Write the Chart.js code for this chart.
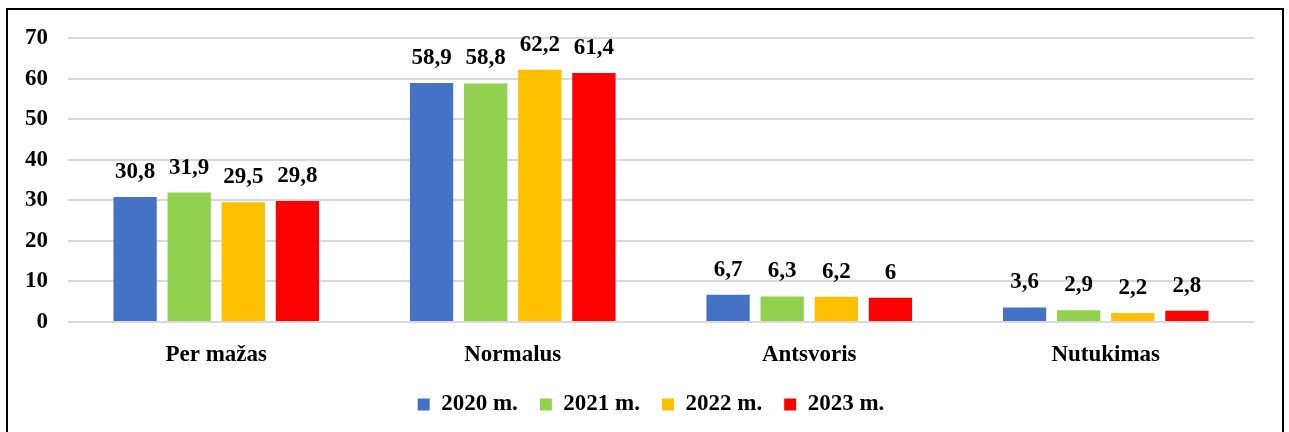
<!DOCTYPE html>
<html>
<head>
<meta charset="utf-8">
<script src="https://cdn.jsdelivr.net/npm/chart.js@4"></script>
<style>
  body { margin: 0; background: #fff; overflow: hidden; }
  #box {
    position: absolute; left: 6px; top: 8px;
    width: 1274px; height: 430px;
    border: 2px solid #000;
  }
  #box canvas { display: block; }
</style>
</head>
<body>
<div id="box"><canvas id="c" width="1274" height="422"></canvas></div>
<script>
// chart data
const categories = ['Per mažas', 'Normalus', 'Antsvoris', 'Nutukimas']
const years = ['2020 m.', '2021 m.', '2022 m.', '2023 m.']
const v2020 = [30.8, 58.9, 6.7, 3.6]
const v2021 = [31.9, 58.8, 6.3, 2.9]
const v2022 = [29.5, 62.2, 6.2, 2.2]
const v2023 = [29.8, 61.4, 6.0, 2.8]
const yTicks = [0, 10, 20, 30, 40, 50, 60, 70]

const colors = ['#4472C4', '#92D050', '#FFC000', '#FF0000']
const font = "'Liberation Serif', 'Times New Roman', serif"

// value labels above bars, comma decimals
const barLabels = {
	id: 'barLabels',
	afterDatasetsDraw(chart) {
		const ctx = chart.ctx
		ctx.save()
		ctx.font = 'bold 23px ' + font
		ctx.fillStyle = '#000'
		ctx.textAlign = 'center'
		ctx.textBaseline = 'middle'
		chart.data.datasets.forEach((ds, i) => {
			chart.getDatasetMeta(i).data.forEach((bar, j) => {
				const txt = String(ds.data[j]).replace('.', ',')
				ctx.fillText(txt, bar.x, bar.y - 25)
			})
		})
		ctx.restore()
	}
}

// nudge the legend a little to the right
const legendShift = {
	id: 'legendShift',
	afterLayout(chart) {
		if (!chart.legend) return
		chart.legend.left += 20
		chart.legend.right += 20
	}
}

const series = [v2020, v2021, v2022, v2023]

new Chart(document.getElementById('c'), {
	type: 'bar',
	data: {
		labels: categories,
		datasets: series.map((d, i) => ({
			label: years[i],
			data: d,
			backgroundColor: colors[i],
			barPercentage: 0.8,
			categoryPercentage: 0.73
		}))
	},
	options: {
		responsive: false,
		animation: false,
		layout: { padding: { left: 0, right: 28, top: 28, bottom: 6 } },
		plugins: {
			legend: {
				position: 'bottom',
				labels: {
					boxWidth: 12,
					boxHeight: 12,
					padding: 22,
					color: '#000',
					font: { family: font, size: 23, weight: 'bold' }
				}
			},
			tooltip: { enabled: false }
		},
		scales: {
			x: {
				grid: { display: false, drawTicks: false },
				border: { display: false },
				ticks: {
					color: '#000',
					padding: 19,
					font: { family: font, size: 23, weight: 'bold' }
				},
				afterFit(s) { s.height = 49 }
			},
			y: {
				min: 0,
				max: 70,
				afterBuildTicks(s) { s.ticks = yTicks.map(v => ({ value: v })) },
				grid: { color: '#d9d9d9', lineWidth: 2, drawTicks: false },
				border: { display: false },
				ticks: {
					color: '#000',
					padding: 20,
					font: { family: font, size: 23, weight: 'bold' }
				},
				afterFit(s) {
					s.width = 60
					s.paddingTop = 0
					s.paddingBottom = 0
				}
			}
		}
	},
	plugins: [barLabels, legendShift]
})
</script>
</body>
</html>
